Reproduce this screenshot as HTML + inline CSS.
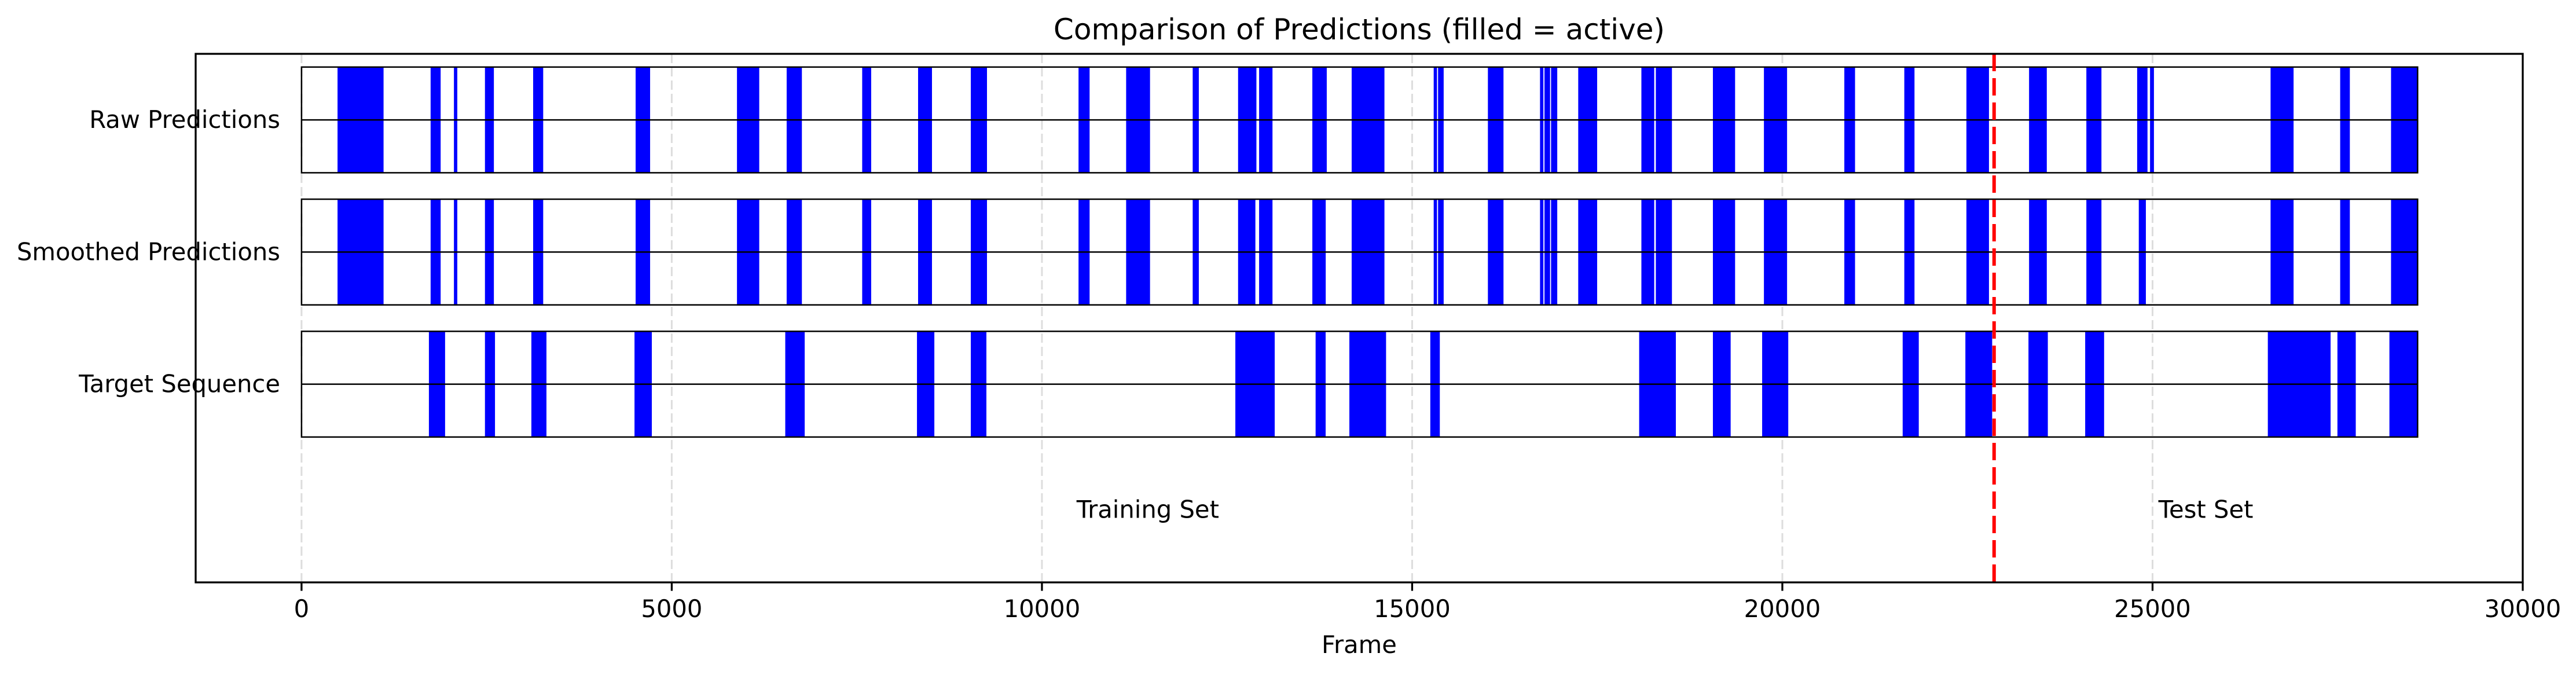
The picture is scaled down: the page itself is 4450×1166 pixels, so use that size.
<!DOCTYPE html>
<html><head><meta charset="utf-8"><style>
html,body{margin:0;padding:0;background:#fff;}
svg{display:block;font-family:"DejaVu Sans","Liberation Sans",sans-serif;}
</style></head><body>
<svg id="chart" width="4450" height="1166" viewBox="0 0 4450 1166" xmlns="http://www.w3.org/2000/svg"></svg>
<script>
const rowLabels = ["Raw Predictions","Smoothed Predictions","Target Sequence"];
const rawSegments = [[494,800],[800,1100],[1751,1871],[2066,2096],[2485,2590],[3136,3256],[4520,4700],[5889,6070],[6070,6174],[6560,6750],[7580,7686],[8335,8507],[9047,9250],[10502,10636],[11145,11452],[12044,12111],[12657,12889],[12941,13106],[13660,13839],[14191,14618],[15299,15328],[15358,15418],[16031,16226],[16735,16765],[16795,16855],[16884,16952],[17251,17491],[18104,18262],[18299,18501],[19070,19354],[19759,20056],[20845,20974],[21655,21777],[22494,22783],[23340,23564],[24114,24302],[24800,24924],[24974,25011],[26602,26897],[27542,27657],[28229,28580]];
const smoothedSegments = [[494,800],[800,1100],[1751,1871],[2066,2096],[2485,2590],[3136,3256],[4520,4700],[5889,6070],[6070,6174],[6560,6750],[7580,7686],[8335,8507],[9047,9250],[10502,10636],[11145,11452],[12044,12111],[12657,12875],[12941,13106],[13660,13825],[14191,14618],[15299,15328],[15358,15418],[16031,16226],[16735,16765],[16795,16855],[16884,16952],[17251,17491],[18104,18262],[18299,18501],[19070,19354],[19759,20056],[20845,20974],[21655,21777],[22494,22783],[23340,23564],[24114,24302],[24822,24902],[26602,26897],[27542,27657],[28229,28580]];
const targetSegments = [[1728,1931],[2485,2605],[3112,3300],[4505,4723],[6541,6788],[8320,8539],[9047,9242],[12620,13136],[13704,13824],[14160,14640],[15253,15366],[18074,18554],[19070,19294],[19735,20072],[21633,21835],[22480,22826],[23332,23578],[24098,24338],[26565,27397],[27505,27737],[28207,28576]];
const rowYs = [2,1,0];
const xTicks = [0,5000,10000,15000,20000,25000,30000];
const sequenceEnd = 28580;
const splitFrame = 22860;
const regionLabels = ["Training Set","Test Set"];
const regionX = [11430,25720];

const L=338,R=4358,T=93,B=1006, xmin=-1430,xmax=30000,ymin=-1.5,ymax=2.5;
const X=v=>L+(v-xmin)/(xmax-xmin)*(R-L);
const Y=v=>T+(ymax-v)/(ymax-ymin)*(B-T);
const svg=document.getElementById('chart');
const NS="http://www.w3.org/2000/svg";
function mk(tag,attrs,parent){const e=document.createElementNS(NS,tag);for(const k in attrs)e.setAttribute(k,attrs[k]);(parent||svg).appendChild(e);return e;}

xTicks.forEach(t=>{
  const g=mk('line',{x1:X(t),x2:X(t),y1:T,y2:B,stroke:'#dddddd','stroke-width':3,'stroke-dasharray':'16,7'});
  
  
});
const series=[rawSegments,smoothedSegments,targetSegments];
series.forEach((segs,i)=>{
  const yc=rowYs[i];
  const grp=mk('g',{});
  
  
  segs.forEach(s=>{
    const r=mk('rect',{x:X(s[0]),y:Y(yc+0.4),width:Math.max(X(s[1])-X(s[0]),2),height:Y(yc-0.4)-Y(yc+0.4),fill:'#0000ff',stroke:'#0000ff','stroke-width':2},grp);
    
    
  });
  const o=mk('rect',{x:X(0),y:Y(yc+0.4),width:X(sequenceEnd)-X(0),height:Y(yc-0.4)-Y(yc+0.4),fill:'none',stroke:'#000','stroke-width':2.5},grp);
  
  
  const m=mk('line',{x1:X(0),x2:X(sequenceEnd),y1:Y(yc),y2:Y(yc),stroke:'#000','stroke-width':2.5},grp);
  
  
  const lb=mk('text',{x:484,y:Y(yc)+14,'text-anchor':'end','font-size':41.7,fill:'#000'});
  lb.textContent=rowLabels[i];
  
  
});
const sp=mk('line',{x1:X(splitFrame),x2:X(splitFrame),y1:T,y2:B,stroke:'#ff0000','stroke-width':6,'stroke-dasharray':'30,12'});


regionLabels.forEach((s,i)=>{
  const t=mk('text',{x:X(regionX[i]),y:Y(-0.95)+14,'text-anchor':'middle','font-size':41.7,fill:'#000'});
  t.textContent=s;
  
  
});
const fr=mk('rect',{x:L,y:T,width:R-L,height:B-T,fill:'none',stroke:'#000','stroke-width':3.3});


xTicks.forEach(t=>{
  const tk=mk('line',{x1:X(t),x2:X(t),y1:B,y2:B+14.6,stroke:'#000','stroke-width':3.3});
  
  
  const lb=mk('text',{x:X(t),y:1066,'text-anchor':'middle','font-size':41.7,fill:'#000'});
  lb.textContent=String(t);
  
  
});
const xl=mk('text',{x:(L+R)/2,y:1128,'text-anchor':'middle','font-size':41.7,fill:'#000'});
xl.textContent='Frame';


const ti=mk('text',{x:(L+R)/2,y:68,'text-anchor':'middle','font-size':50,fill:'#000'});
ti.textContent='Comparison of Predictions (filled = active)';


</script>
</body></html>
